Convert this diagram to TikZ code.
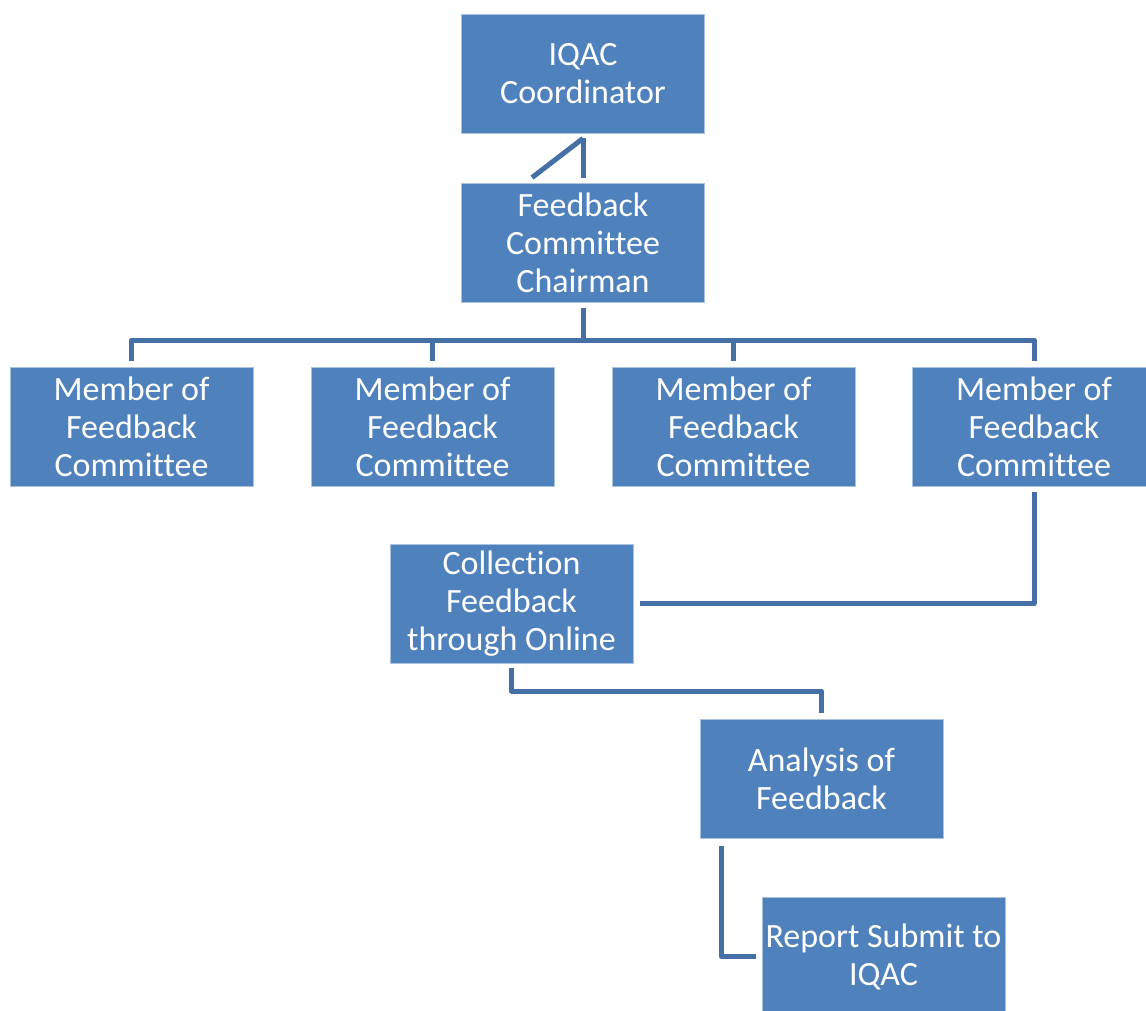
\documentclass[tikz,border=0pt]{standalone}
\usepackage{fontspec}
\setmainfont{Carlito}[Ligatures={NoCommon}]
\usetikzlibrary{calc}
\definecolor{boxblue}{RGB}{79,129,189}
\definecolor{boxedge}{RGB}{170,195,225}
\definecolor{linecol}{RGB}{68,112,166}
\tikzset{
  orgbox/.style={rectangle, fill=boxblue, draw=boxedge, line width=0.8pt,
    minimum width=243pt, minimum height=119pt, inner sep=0pt,
    align=center, text=white, font=\fontsize{34}{38}\selectfont},
  conn/.style={draw=linecol, line width=5pt, line join=round}
}
\begin{document}
\begin{tikzpicture}[x=1pt,y=-1pt]
\useasboundingbox (0,0) rectangle (1146,1010);
\fill[white] (0,0) rectangle (1146,1010);
\clip (0,0) rectangle (1146,1010);

\node[orgbox] (iqac) at (583,73.5) {IQAC\\Coordinator};
\node[orgbox] (chair) at (583,242.5) {Feedback\\Committee\\Chairman};
\node[orgbox] (m1) at (131.5,426.5) {Member of\\Feedback\\Committee};
\node[orgbox] (m2) at (432.5,426.5) {Member of\\Feedback\\Committee};
\node[orgbox] (m3) at (733.5,426.5) {Member of\\Feedback\\Committee};
\node[orgbox] (m4) at (1034,426.5) {Member of\\Feedback\\Committee};
\node[orgbox] (coll) at (511.5,603.5) {Collection\\Feedback\\through Online};
\node[orgbox] (ana) at (821.5,779) {Analysis of\\Feedback};
\node[orgbox] (rep) at (883.5,956.5) {Report Submit to\\IQAC};

\coordinate (busy) at (0,340);
\coordinate (midy) at (0,691);

% IQAC -- Chairman
\draw[conn] ([yshift=-5pt]iqac.south) -- ([yshift=5pt]chair.north);
\draw[conn] ([yshift=-5pt]iqac.south) -- ([xshift=-51pt,yshift=5pt]chair.north);

% Chairman -- members
\draw[conn] ([yshift=-6pt]chair.south) -- (chair.south |- busy);
\draw[conn] ([yshift=6pt]m1.north) |- (m4.north |- busy) -- ([yshift=6pt]m4.north);
\draw[conn] ([yshift=6pt]m2.north) -- (m2.north |- busy);
\draw[conn] ([yshift=6pt]m3.north) -- (m3.north |- busy);

% Member 4 -- Collection
\draw[conn] ([yshift=-6pt]m4.south) |- ([xshift=7pt]coll.east);

% Collection -- Analysis
\draw[conn] ([yshift=-5pt]coll.south) -- (coll.south |- midy) -| ([yshift=6pt]ana.north);

% Analysis -- Report
\draw[conn] ([xshift=22pt,yshift=-7pt]ana.south west) |- ([xshift=-6pt]rep.west);
\end{tikzpicture}
\end{document}
